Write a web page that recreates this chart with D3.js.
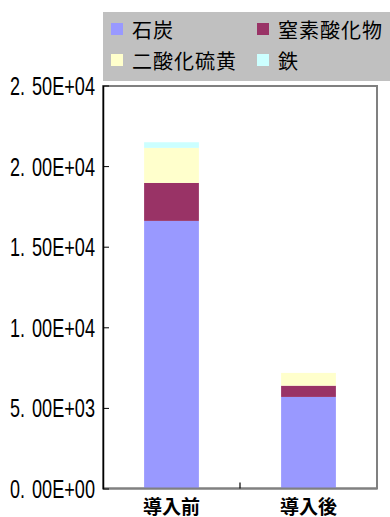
<!DOCTYPE html>
<html>
<head>
<meta charset="utf-8">
<script src="https://cdn.jsdelivr.net/npm/d3@7"></script>
<style>
  html, body { margin: 0; padding: 0; background: #ffffff; }
  svg { display: block; }
</style>
</head>
<body>
<svg id="chart" width="390" height="517"></svg>
<script>
// Emission amounts before / after introduction, stacked by source
const categories = ["導入前", "導入後"];
const seriesNames = ["石炭", "窒素酸化物", "二酸化硫黄", "鉄"];
const coal = [16600, 5680];
const nox  = [2360, 700];
const so2  = [2170, 790];
const iron = [350, 0];
const seriesColors = ["#9999ff", "#993366", "#ffffcc", "#ccffff"];
const yTicks = [0, 5000, 10000, 15000, 20000, 25000];

const svg = d3.select("#chart");
const plot = { left: 103, right: 377, top: 86, bottom: 488.5 };

const rows = categories.map((c, i) => ({
  category: c,
  "石炭": coal[i],
  "窒素酸化物": nox[i],
  "二酸化硫黄": so2[i],
  "鉄": iron[i]
}));
const stacked = d3.stack().keys(seriesNames)(rows);

const x = d3.scaleBand()
  .domain(categories)
  .range([plot.left, plot.right])
  .paddingInner(0.6)
  .paddingOuter(0.3);

const y = d3.scaleLinear()
  .domain([0, 25000])
  .range([plot.bottom, plot.top - 0.5]);

const color = d3.scaleOrdinal().domain(seriesNames).range(seriesColors);

// Scientific notation like 2.00E+04
function sci(v) {
  if (v === 0) return "0.00E+00";
  const e = Math.floor(Math.log10(Math.abs(v)));
  const m = v / Math.pow(10, e);
  const sign = e < 0 ? "-" : "+";
  return m.toFixed(2) + "E" + sign + String(Math.abs(e)).padStart(2, "0");
}

// Plot frame
svg.append("rect")
  .attr("x", plot.left)
  .attr("y", plot.top)
  .attr("width", plot.right - plot.left)
  .attr("height", plot.bottom - plot.top)
  .attr("fill", "#ffffff")
  .attr("stroke", "#808080")
  .attr("stroke-width", 2);

// Stacked bars
svg.append("g")
  .selectAll("g")
  .data(stacked)
  .join("g")
  .attr("fill", d => color(d.key))
  .selectAll("rect")
  .data(d => d)
  .join("rect")
  .attr("x", d => x(d.data.category))
  .attr("width", x.bandwidth())
  .attr("y", d => y(d[1]))
  .attr("height", d => y(d[0]) - y(d[1]));

// Category axis (bottom)
const xAxis = svg.append("g")
  .attr("transform", `translate(0,${plot.bottom})`);
xAxis.append("line")
  .attr("x1", plot.left).attr("x2", plot.right)
  .attr("stroke", "#808080").attr("stroke-width", 2);
const bounds = [plot.left + x.step()];
xAxis.selectAll("line.tick")
  .data(bounds)
  .join("line")
  .attr("class", "tick")
  .attr("x1", d => d).attr("x2", d => d)
  .attr("y1", -6).attr("y2", 0)
  .attr("stroke", "#000000").attr("stroke-width", 1.2);
xAxis.selectAll("text")
  .data(categories)
  .join("text")
  .attr("x", d => x(d) + x.bandwidth() / 2)
  .attr("y", 25)
  .attr("text-anchor", "middle")
  .attr("font-family", "'Noto Sans CJK JP', sans-serif")
  .attr("font-weight", "bold")
  .attr("font-size", 19)
  .attr("fill", "#000000")
  .text(d => d);

// Value axis (left)
const yAxis = svg.append("g")
  .attr("transform", `translate(${plot.left},0)`)
  .call(d3.axisLeft(y)
    .tickValues(yTicks)
    .tickFormat(sci)
    .tickSizeInner(-6)
    .tickSizeOuter(0)
    .tickPadding(8));
yAxis.select(".domain").attr("stroke", "#000000").attr("stroke-width", 1.5);
yAxis.selectAll(".tick line").attr("stroke", "#000000");

// Tall, narrow tick labels: mantissa head "2." and the rest set in
// two condensed runs so the decimal point keeps its own cell.
yAxis.selectAll(".tick text").each(function () {
  const t = d3.select(this);
  const label = t.text();
  const head = label.slice(0, 2);
  const tail = label.slice(2);
  t.text(null)
    .attr("text-anchor", "start")
    .attr("x", null)
    .attr("font-family", "'Liberation Sans', Arial, sans-serif")
    .attr("font-size", 25)
    .attr("fill", "#000000")
    .attr("dy", "0.36em");
  t.append("tspan")
    .attr("x", -93)
    .attr("textLength", 15)
    .attr("lengthAdjust", "spacingAndGlyphs")
    .text(head);
  t.append("tspan")
    .attr("x", -71)
    .attr("textLength", 63)
    .attr("lengthAdjust", "spacingAndGlyphs")
    .text(tail);
});

// Legend
const legend = svg.append("g");
legend.append("rect")
  .attr("x", 103).attr("y", 12)
  .attr("width", 287).attr("height", 69)
  .attr("fill", "#c0c0c0");
const items = legend.selectAll("g.item")
  .data(seriesNames)
  .join("g")
  .attr("class", "item")
  .attr("transform", (d, i) => `translate(${111 + (i % 2) * 146},${23 + Math.floor(i / 2) * 31})`);
items.append("rect")
  .attr("width", 12).attr("height", 12)
  .attr("fill", d => color(d));
items.append("text")
  .attr("x", 21)
  .attr("y", 15)
  .attr("font-family", "'Noto Sans CJK JP', sans-serif")
  .attr("font-size", 20)
  .attr("letter-spacing", 1)
  .attr("fill", "#000000")
  .text(d => d);
</script>
</body>
</html>
